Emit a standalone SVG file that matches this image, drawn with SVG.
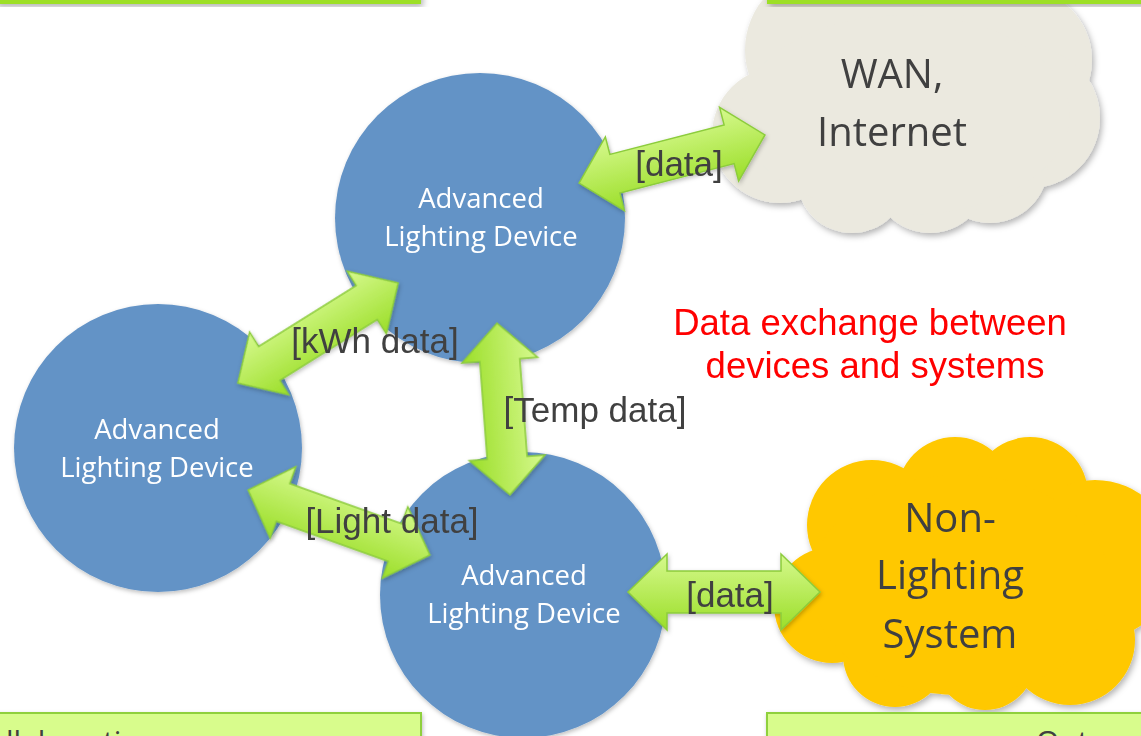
<svg xmlns="http://www.w3.org/2000/svg" width="1141" height="736" viewBox="0 0 1141 736">
<defs>
<linearGradient id="ag" x1="0" y1="0" x2="0" y2="1">
<stop offset="0" stop-color="#d6f98e"/>
<stop offset="1" stop-color="#9bde28"/>
</linearGradient>
<filter id="sh" x="-20%" y="-20%" width="140%" height="140%">
<feDropShadow dx="2" dy="3" stdDeviation="3" flood-color="#000" flood-opacity="0.3"/>
</filter>
<filter id="shs" x="-20%" y="-20%" width="140%" height="140%">
<feDropShadow dx="1" dy="2" stdDeviation="2" flood-color="#000" flood-opacity="0.25"/>
</filter>
</defs>
<style>
.dev{fill:#6393c6;}
.dt{font-family:"Open Sans","Noto Sans",sans-serif;font-size:27.5px;fill:#ffffff;text-anchor:middle;}
.ct{font-family:"Open Sans","Noto Sans",sans-serif;font-size:40px;fill:#404040;text-anchor:middle;}
.arr{fill:url(#ag);stroke:#8ccc3c;stroke-width:1.5;stroke-linejoin:miter;}
.lbl{font-family:"Liberation Sans",Arial,sans-serif;font-size:35px;fill:#404040;text-anchor:middle;}
.red{font-family:"Liberation Sans",Arial,sans-serif;font-size:36.5px;fill:#ff0000;text-anchor:middle;}
.bar{fill:#9ddf28;}
.box{fill:#d8fc8c;stroke:#8fd03c;stroke-width:2;}
.bt{font-family:"Open Sans","Noto Sans",sans-serif;font-size:30px;fill:#404040;}
</style>
<rect width="1141" height="736" fill="#ffffff"/>

<g id="cloud-wan" filter="url(#sh)" fill="#ebe9df">
<circle cx="780" cy="135" r="68"/>
<circle cx="825" cy="50" r="80"/>
<circle cx="940" cy="40" r="80"/>
<circle cx="1020" cy="60" r="72"/>
<circle cx="1030" cy="118" r="70"/>
<circle cx="990" cy="165" r="58"/>
<circle cx="930" cy="175" r="58"/>
<circle cx="852" cy="178" r="55"/>
<ellipse cx="905" cy="115" rx="165" ry="100"/>
</g>

<g id="cloud-nonlighting" filter="url(#sh)" fill="#ffc800">
<circle cx="832" cy="605" r="58"/>
<circle cx="872" cy="525" r="65"/>
<circle cx="955" cy="495" r="58"/>
<circle cx="1030" cy="495" r="58"/>
<circle cx="1095" cy="560" r="80"/>
<circle cx="895" cy="655" r="52"/>
<circle cx="985" cy="660" r="50"/>
<circle cx="1070" cy="640" r="65"/>
<ellipse cx="960" cy="585" rx="150" ry="110"/>
</g>

<g id="bar-tl"><rect class="bar" x="-5" y="-10" width="426" height="14" filter="url(#sh)"/></g>
<g id="bar-tr"><rect class="bar" x="767" y="-10" width="380" height="14" filter="url(#sh)"/></g>

<g id="dev-top"><circle class="dev" cx="480" cy="218" r="145" filter="url(#shs)"/></g>
<g id="dev-left"><circle class="dev" cx="158" cy="448" r="144" filter="url(#shs)"/></g>
<g id="dev-bottom"><circle class="dev" cx="523" cy="595" r="143" filter="url(#shs)"/></g>

<g id="connectors" filter="url(#shs)">
<path class="arr" transform="translate(672,159) rotate(-14.5)" d="M-96,0 L-59,-38 L-59,-20 L59,-20 L59,-38 L96,0 L59,38 L59,20 L-59,20 L-59,38 Z"/>
<path class="arr" transform="translate(318,333) rotate(-32)" d="M-94.5,0 L-57.5,-37 L-57.5,-20 L57.5,-20 L57.5,-37 L94.5,0 L57.5,37 L57.5,20 L-57.5,20 L-57.5,37 Z"/>
<path class="arr" transform="translate(339,522.5) rotate(19.7)" d="M-96.5,0 L-59.5,-38 L-59.5,-20 L59.5,-20 L59.5,-38 L96.5,0 L59.5,38 L59.5,20 L-59.5,20 L-59.5,38 Z"/>
<path class="arr" transform="translate(503.5,409) rotate(85.7)" d="M-86,0 L-49,-38 L-49,-20 L49,-20 L49,-38 L86,0 L49,38 L49,20 L-49,20 L-49,38 Z"/>
<path class="arr" transform="translate(724,592)" d="M-96,0 L-57,-38 L-57,-21 L57,-21 L57,-38 L96,0 L57,38 L57,21 L-57,21 L-57,38 Z"/>
</g>

<g id="labels">
<text class="lbl" x="679" y="176">[data]</text>
<text class="lbl" x="375" y="353">[kWh data]</text>
<text class="lbl" x="595" y="422">[Temp data]</text>
<text class="lbl" x="392" y="533">[Light data]</text>
<text class="lbl" x="730" y="607">[data]</text>
</g>

<g id="dev-text">
<text class="dt" x="481" y="208">Advanced</text>
<text class="dt" x="481" y="246">Lighting Device</text>
<text class="dt" x="157" y="439">Advanced</text>
<text class="dt" x="157" y="477">Lighting Device</text>
<text class="dt" x="524" y="585">Advanced</text>
<text class="dt" x="524" y="623">Lighting Device</text>
</g>

<g id="cloud-text">
<text class="ct" x="892" y="88">WAN,</text>
<text class="ct" x="892" y="146">Internet</text>
<text class="ct" x="950" y="532">Non-</text>
<text class="ct" x="950" y="589">Lighting</text>
<text class="ct" x="950" y="648">System</text>
</g>

<g id="note">
<text class="red" x="870" y="335">Data exchange between</text>
<text class="red" x="875" y="378">devices and systems</text>
</g>

<g id="box-bl"><rect class="box" x="-5" y="713" width="426" height="40" filter="url(#shs)"/><text class="bt" x="6" y="752">llaborations</text></g>
<g id="box-br"><rect class="box" x="767" y="713" width="380" height="40" filter="url(#shs)"/><text class="bt" x="1036" y="752">Outc</text></g>
</svg>
